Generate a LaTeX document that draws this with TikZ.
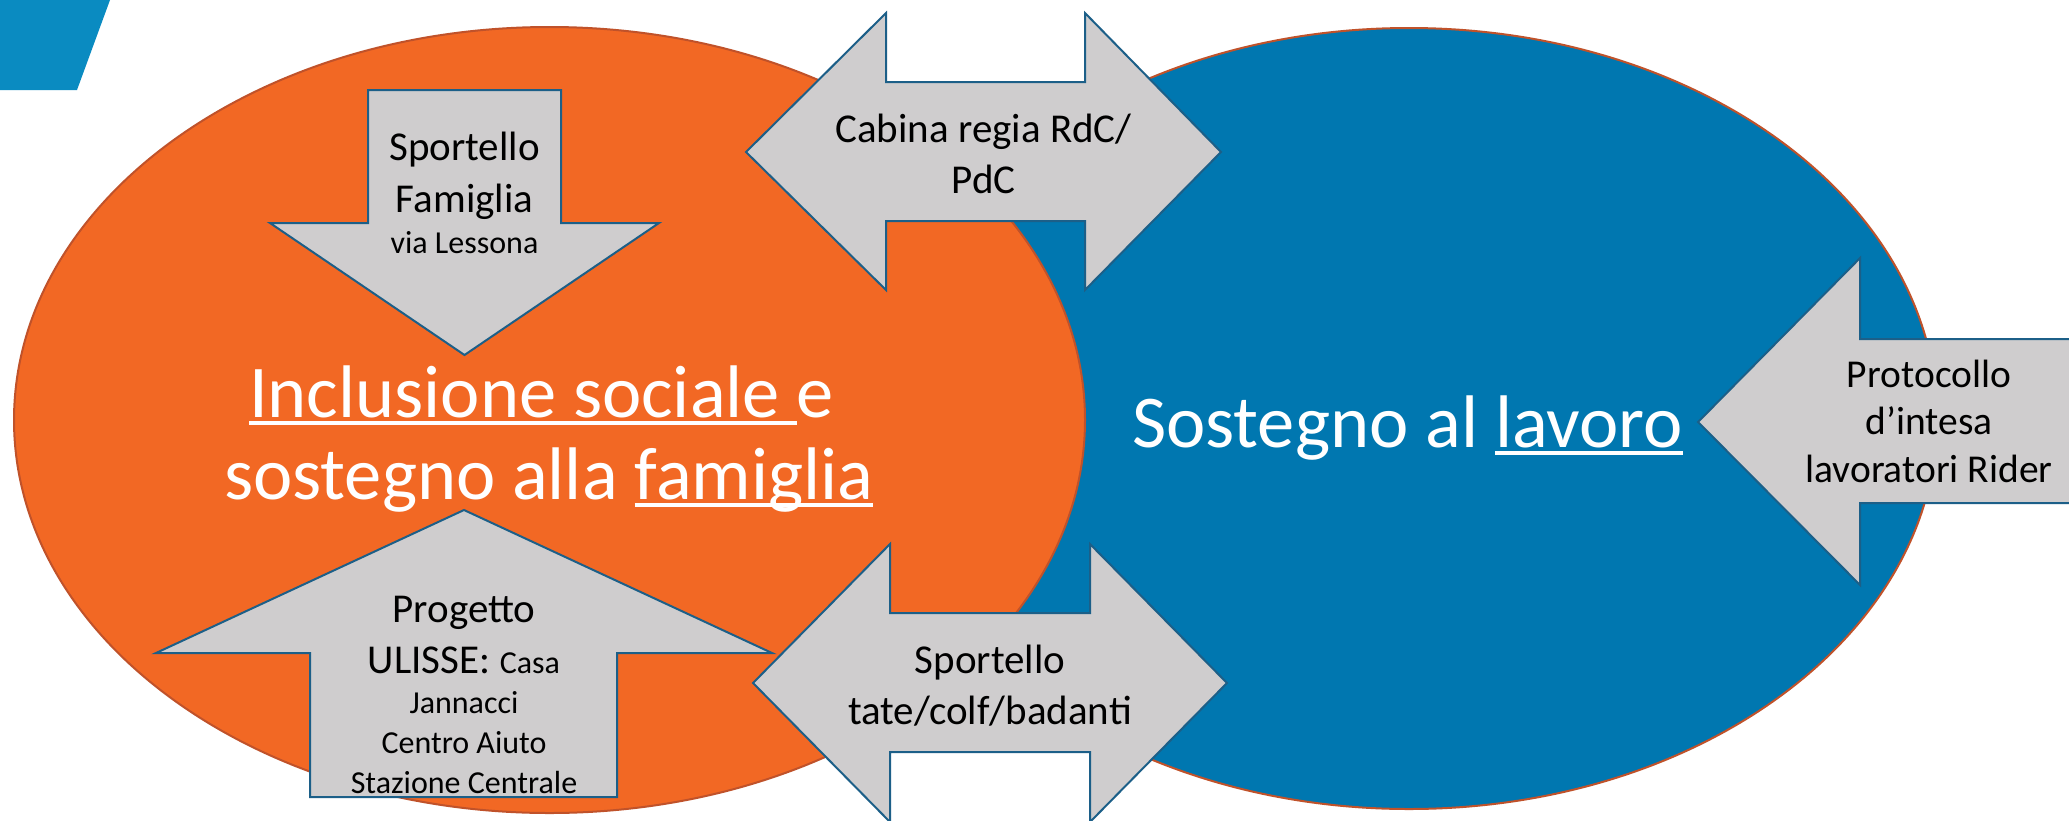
\documentclass[tikz,border=0pt]{standalone}
\usepackage{fontspec}
\setmainfont{Carlito}
\usetikzlibrary{shapes.geometric}
\definecolor{orgfill}{HTML}{F26824}
\definecolor{orgline}{HTML}{C0522A}
\definecolor{bluefill}{HTML}{0077B0}
\definecolor{arrfill}{HTML}{CFCDCE}
\definecolor{arrline}{HTML}{1C5F88}
\definecolor{logoblue}{HTML}{0A8BC1}
\newcommand\fBig{\fontsize{74.5}{82}\selectfont}
\newcommand\fMid{\fontsize{41}{50}\selectfont}
\newcommand\fSml{\fontsize{32}{40}\selectfont}
\newcommand\fPro{\fontsize{39.5}{47}\selectfont}
\begin{document}
\begin{tikzpicture}[x=1pt,y=-1pt,
  blockarrow/.style={fill=arrfill,draw=arrline,line width=2pt,line join=miter},
  circ/.style={ellipse,inner sep=0pt,outer sep=0pt,line width=2pt,draw=orgline},
  lbl/.style={inner sep=0pt,outer sep=0pt,anchor=base,text=black},
  lblmid/.style={lbl,font=\fMid},
  lblsml/.style={lbl,font=\fSml},
  lblpro/.style={lbl,font=\fPro},
  bigtxt/.style={inner sep=0pt,outer sep=0pt,anchor=base west,text=white,font=\fBig},
  uline/.style={draw=white,line width=3.5pt}]
\useasboundingbox (0,0) rectangle (2069,820);
\clip (0,0) rectangle (2069,820);
\fill[white] (0,0) rectangle (2069,820);
% logo fragment
\fill[logoblue] (0,0) -- (110,0) -- (77,90) -- (0,90) -- cycle;
% circles
\node[circ,fill=bluefill,minimum width=1056pt,minimum height=781pt] (lavoro) at (1409,418.5) {};
\node[circ,fill=orgfill,minimum width=1071pt,minimum height=786pt] (inclusione) at (549.5,420) {};
% block arrows
\draw[blockarrow] (368,90) -- (561,90) -- (561,223) -- (659,223) -- (464.5,355) -- (270,223) -- (368,223) -- cycle;
\draw[blockarrow] (464,510) -- (772,653) -- (617,653) -- (617,797) -- (310,797) -- (310,653) -- (156,653) -- cycle;
\draw[blockarrow] (746,152) -- (886,13) -- (886,82) -- (1085,82) -- (1085,13) -- (1221,152) -- (1085,290) -- (1085,221) -- (886,221) -- (886,290) -- cycle;
\draw[blockarrow] (753,683) -- (890,544) -- (890,613) -- (1090,613) -- (1090,544) -- (1227,683) -- (1090,822) -- (1090,752) -- (890,752) -- (890,822) -- cycle;
\draw[blockarrow] (1698,422) -- (1860,258) -- (1860,339) -- (2090,339) -- (2090,503) -- (1860,503) -- (1860,585) -- cycle;
% labels in arrows
\node[lblmid] (fam1) at (464.5,160) {Sportello};
\node[lblmid] (fam2) at (464.5,212) {Famiglia};
\node[lblsml] (fam3) at (464.5,253) {via Lessona};
\node[lblmid] (cab1) at (983.5,142) {Cabina regia RdC/};
\node[lblmid] (cab2) at (983.5,193) {PdC};
\node[lblmid] (tat1) at (990,673) {Sportello};
\node[lblmid] (tat2) at (990,724) {tate/colf/badanti};
\node[lblmid] (uli1) at (464,622) {Progetto};
\node[lblmid] (uli2) at (464,673) {ULISSE: {\fSml Casa}};
\node[lblsml] (uli3) at (464,713) {Jannacci};
\node[lblsml] (uli4) at (464,753) {Centro Aiuto};
\node[lblsml] (uli5) at (464,793) {Stazione Centrale};
\node[lblpro] (pro1) at (1929,387) {Protocollo};
\node[lblpro] (pro2) at (1929,434) {d’intesa};
\node[lblpro] (pro3) at (1929,482) {lavoratori Rider};
% big texts
\node[bigtxt] (incl1a) at (249,417) {Inclusione sociale\ \mbox{}};
\node[bigtxt] (incl1b) at (incl1a.base east) {e};
\node[bigtxt] (incl2a) at (224,499) {sostegno alla\ \mbox{}};
\node[bigtxt] (incl2b) at (incl2a.base east) {famiglia};
\node[bigtxt] (sosta) at (1132,447) {Sostegno al\ \mbox{}};
\node[bigtxt] (sostb) at (sosta.base east) {lavoro};
\draw[uline] ([yshift=-6pt]incl1a.base west) -- ([yshift=-6pt]incl1a.base east);
\draw[uline] ([yshift=-6pt]incl2b.base west) -- ([yshift=-6pt]incl2b.base east);
\draw[uline] ([yshift=-6pt]sostb.base west) -- ([yshift=-6pt]sostb.base east);
\end{tikzpicture}
\end{document}
